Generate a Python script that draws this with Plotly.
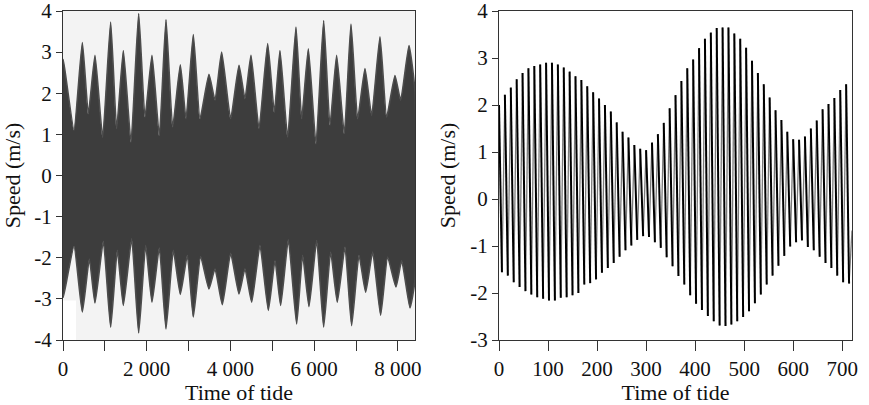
import plotly.graph_objects as go

# ---------------- Left panel: long record, envelope of the dense oscillation ----------------
upper_t = [0, 8, 263, 462, 605, 764, 947, 1138, 1281, 1441, 1624, 1807, 1958, 2125, 2300, 2460,
           2619, 2802, 2938, 3112, 3272, 3486, 3630, 3789, 4004, 4203, 4346, 4490, 4681, 4888,
           5047, 5182, 5365, 5564, 5700, 5859, 6042, 6225, 6376, 6535, 6718, 6878, 7037, 7212,
           7371, 7570, 7729, 7928, 8064, 8263, 8406]
upper_v = [2.75, 2.82, 1.10, 3.23, 1.50, 2.92, 0.93, 3.73, 1.14, 3.04, 0.81, 3.94, 1.42, 2.92, 0.97, 3.79,
           1.18, 2.69, 1.38, 3.43, 1.38, 2.46, 1.83, 3.00, 1.38, 2.68, 1.87, 2.92, 1.14, 3.21,
           1.54, 3.04, 0.93, 3.61, 1.38, 3.08, 0.77, 3.77, 1.22, 2.92, 1.02, 3.68, 1.38, 2.60,
           1.46, 3.37, 1.42, 2.43, 1.83, 3.16, 2.05]

lower_t = [0, 8, 263, 462, 629, 764, 963, 1138, 1297, 1441, 1640, 1807, 1974, 2125, 2300, 2460,
           2635, 2802, 2969, 3112, 3287, 3486, 3630, 3805, 4004, 4203, 4346, 4506, 4704, 4904,
           5063, 5198, 5381, 5580, 5723, 5875, 6058, 6225, 6392, 6551, 6734, 6893, 7069, 7228,
           7395, 7586, 7753, 7952, 8088, 8287, 8406]
lower_v = [-2.90, -2.96, -1.72, -3.32, -2.03, -3.10, -1.60, -3.69, -1.82, -3.16, -1.54, -3.83, -1.70, -3.08,
           -1.76, -3.73, -1.82, -2.89, -1.94, -3.44, -1.97, -2.76, -2.27, -3.14, -1.89, -2.88, -2.27,
           -3.08, -1.70, -3.28, -2.07, -3.16, -1.56, -3.61, -1.94, -3.19, -1.58, -3.69, -1.86, -3.08,
           -1.74, -3.65, -1.94, -2.84, -1.86, -3.40, -1.98, -2.71, -2.07, -3.22, -2.55]

left_xticks = [0, 1000, 2000, 3000, 4000, 5000, 6000, 7000, 8000]
left_xtext = ["0", "", "2 000", "", "4 000", "", "6 000", "", "8 000"]
left_yticks = [-4, -3, -2, -1, 0, 1, 2, 3, 4]

# ---------------- Right panel: one month, peaks and troughs of each tide ----------------
peak_hours = list(range(0, 720, 12))
trough_hours = list(range(6, 720, 12))
peak_v = [2.00, 2.22, 2.37, 2.55, 2.68, 2.78, 2.83, 2.86, 2.90, 2.90, 2.86, 2.80, 2.71, 2.61, 2.53,
          2.40, 2.27, 2.14, 2.00, 1.86, 1.63, 1.43, 1.31, 1.15, 1.07, 1.04, 1.20, 1.38, 1.62, 1.93,
          2.21, 2.51, 2.78, 2.97, 3.21, 3.41, 3.54, 3.64, 3.65, 3.65, 3.52, 3.41, 3.22, 2.94, 2.68,
          2.44, 2.16, 1.89, 1.68, 1.43, 1.27, 1.26, 1.33, 1.50, 1.67, 1.91, 2.02, 2.15, 2.32, 2.44]
trough_v = [-1.56, -1.63, -1.77, -1.87, -1.96, -2.03, -2.09, -2.12, -2.16, -2.16, -2.10, -2.09, -2.05,
            -2.00, -1.82, -1.79, -1.71, -1.57, -1.47, -1.36, -1.23, -1.09, -0.99, -0.87, -0.79, -0.81,
            -0.92, -1.04, -1.24, -1.43, -1.64, -1.82, -2.05, -2.23, -2.36, -2.49, -2.60, -2.69, -2.70,
            -2.67, -2.60, -2.51, -2.39, -2.22, -2.03, -1.82, -1.63, -1.42, -1.21, -1.01, -0.92, -0.88,
            -1.02, -1.09, -1.23, -1.36, -1.47, -1.63, -1.77, -1.80]
end_hour = 720
end_v = -0.67

right_xticks = [0, 100, 200, 300, 400, 500, 600, 700]
right_yticks = [-3, -2, -1, 0, 1, 2, 3, 4]

# ---------------- build ----------------
FONT = "'Liberation Serif', 'Times New Roman', Times, serif"
fig = go.Figure()

poly_x = upper_t + lower_t[::-1]
poly_y = upper_v + lower_v[::-1]
fig.add_trace(go.Scatter(x=poly_x, y=poly_y, fill="toself", fillcolor="#3d3d3d",
                         mode="lines", line=dict(color="#4d4d4d", width=1.6, shape="spline", smoothing=0.45),
                         xaxis="x", yaxis="y", showlegend=False, hoverinfo="skip"))

# falling strokes (peak -> trough), drawn dark
fx, fy = [], []
for i in range(len(peak_hours)):
    fx += [peak_hours[i], trough_hours[i], None]
    fy += [peak_v[i], trough_v[i], None]
# rising strokes (trough -> next peak), drawn lighter
rx, ry = [], []
for i in range(len(trough_hours)):
    nx = peak_hours[i + 1] if i + 1 < len(peak_hours) else end_hour
    nv = peak_v[i + 1] if i + 1 < len(peak_v) else end_v
    rx += [trough_hours[i], nx, None]
    ry += [trough_v[i], nv, None]

fig.add_trace(go.Scatter(x=rx, y=ry, mode="lines", line=dict(color="#7a7a7a", width=1.3),
                         xaxis="x2", yaxis="y2", showlegend=False, hoverinfo="skip"))
fig.add_trace(go.Scatter(x=fx, y=fy, mode="lines", line=dict(color="#000000", width=2.0),
                         xaxis="x2", yaxis="y2", showlegend=False, hoverinfo="skip"))

axis_common = dict(showgrid=False, zeroline=False, showline=True, linecolor="#333333",
                   linewidth=1, mirror=True, ticks="outside", tickcolor="#333333",
                   ticklabeloverflow="allow",
                   tickfont=dict(family=FONT, size=21, color="#111111"), automargin=False)

fig.update_layout(
    width=869, height=405,
    margin=dict(l=63, r=17, t=11, b=65),
    paper_bgcolor="white",
    plot_bgcolor="white",
    font=dict(family=FONT, size=21, color="#111111"),
    xaxis=dict(domain=[0, 0.4461], range=[0, 8406], tickvals=left_xticks, ticktext=left_xtext,
               ticklen=10, anchor="y",
               title=dict(text="Time of tide", font=dict(family=FONT, size=22), standoff=2),
               **axis_common),
    yaxis=dict(domain=[0, 1], range=[-4, 4], tickvals=left_yticks,
               ticktext=[str(v) for v in left_yticks], ticklen=6, anchor="x",
               title=dict(text="Speed (m/s)", font=dict(family=FONT, size=22), standoff=8),
               **axis_common),
    xaxis2=dict(domain=[0.5526, 1.0], range=[0, 720], tickvals=right_xticks,
                ticktext=[str(v) for v in right_xticks], ticklen=10, anchor="y2",
                title=dict(text="Time of tide", font=dict(family=FONT, size=22), standoff=2),
                **axis_common),
    yaxis2=dict(domain=[0, 1], range=[-3, 4], tickvals=right_yticks,
                ticktext=[str(v) for v in right_yticks], ticklen=6, anchor="x2",
                title=dict(text="Speed (m/s)", font=dict(family=FONT, size=22), standoff=8),
                **axis_common),
    shapes=[
        dict(type="rect", xref="x domain", yref="y domain", x0=0, x1=1, y0=0, y1=1,
             fillcolor="#f3f3f3", line=dict(width=0), layer="below"),
        dict(type="rect", xref="x", yref="y", x0=0, x1=310, y0=-4, y1=-3.04,
             fillcolor="white", line=dict(width=0), layer="below"),
    ],
)

fig.write_html("out.html")
